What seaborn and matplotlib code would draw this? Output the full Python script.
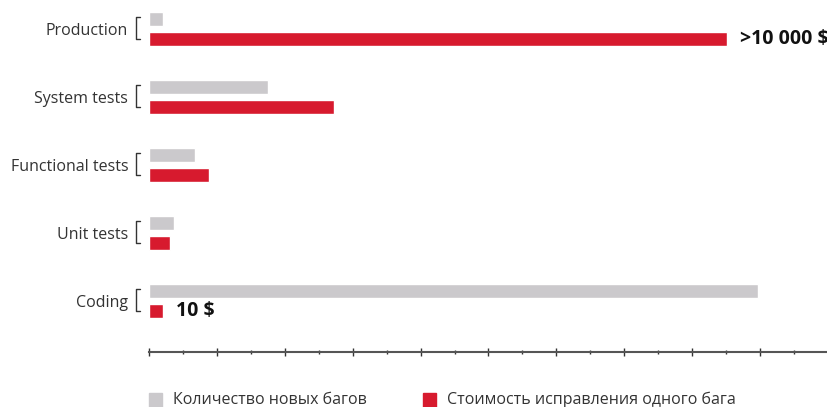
import pandas as pd
import matplotlib.pyplot as plt
from matplotlib.patches import Rectangle
from matplotlib.ticker import MultipleLocator
import seaborn as sns

sns.set_theme(style='white')
plt.rcParams['font.family'] = ['Open Sans', 'DejaVu Sans']

# data (axis units, 10 major steps)
stages = ['Production', 'System tests', 'Functional tests', 'Unit tests', 'Coding']
new_bugs = [0.21, 1.75, 0.68, 0.37, 8.97]
fix_cost = [8.51, 2.72, 0.88, 0.31, 0.21]
series_names = ['Количество новых багов', 'Стоимость исправления одного бага']
cost_labels = {'Production': '>10 000 $', 'Coding': '10 $'}

gray = '#cbc9cc'
red = '#d71a2e'
text_col = '#333333'

df = pd.DataFrame({
    'stage': stages * 2,
    'value': new_bugs + fix_cost,
    'series': [series_names[0]] * 5 + [series_names[1]] * 5,
})

fig = plt.figure(figsize=(8.28, 4.07), dpi=100)
W, H = 828, 407
ax = fig.add_axes([149 / W, (H - 352) / H, 679 / W, 352 / H])

sns.barplot(data=df, y='stage', x='value', hue='series', order=stages,
            hue_order=series_names, palette=[gray, red], orient='h',
            width=0.588, gap=0.3, saturation=1, legend=False, ax=ax)

ax.set_xlim(0, 10)
ax.set_ylim(4.75, -0.426)
ax.set_xlabel('')
ax.set_ylabel('')

for s in ['top', 'right', 'left']:
    ax.spines[s].set_visible(False)
ax.spines['bottom'].set_color('#555555')
ax.spines['bottom'].set_linewidth(1.5)

ax.xaxis.set_major_locator(MultipleLocator(1))
ax.xaxis.set_minor_locator(MultipleLocator(0.5))
ax.tick_params(axis='x', which='major', direction='inout', length=6, width=1,
               color='#333333', labelbottom=False, bottom=True)
ax.tick_params(axis='x', which='minor', direction='inout', length=3, width=1,
               color='#333333', bottom=True)
ax.tick_params(axis='y', length=0, pad=15, labelsize=11.5, labelcolor=text_col)

# brackets next to the stage names
for i in range(len(stages)):
    bx, top, bot = -0.19, i - 0.17, i + 0.15
    ax.plot([bx + 0.06, bx, bx, bx + 0.06], [top, top, bot, bot],
            color='#333333', lw=1, clip_on=False)

# cost annotations
for i, st in enumerate(stages):
    if st in cost_labels:
        ax.text(fix_cost[i] + 0.19, i + 0.15, cost_labels[st], va='center',
                ha='left', fontsize=14, fontweight='bold', color='#111111')

# legend at bottom
for x0, col, name in [(149, gray, series_names[0]), (423, red, series_names[1])]:
    fig.patches.append(Rectangle((x0 / W, 0), 13 / W, 14 / H, color=col,
                                 transform=fig.transFigure, figure=fig))
    fig.text((x0 + 24) / W, 7 / H, name, va='center', ha='left',
             fontsize=11.5, color=text_col)

fig.savefig('out.png', dpi=100)
